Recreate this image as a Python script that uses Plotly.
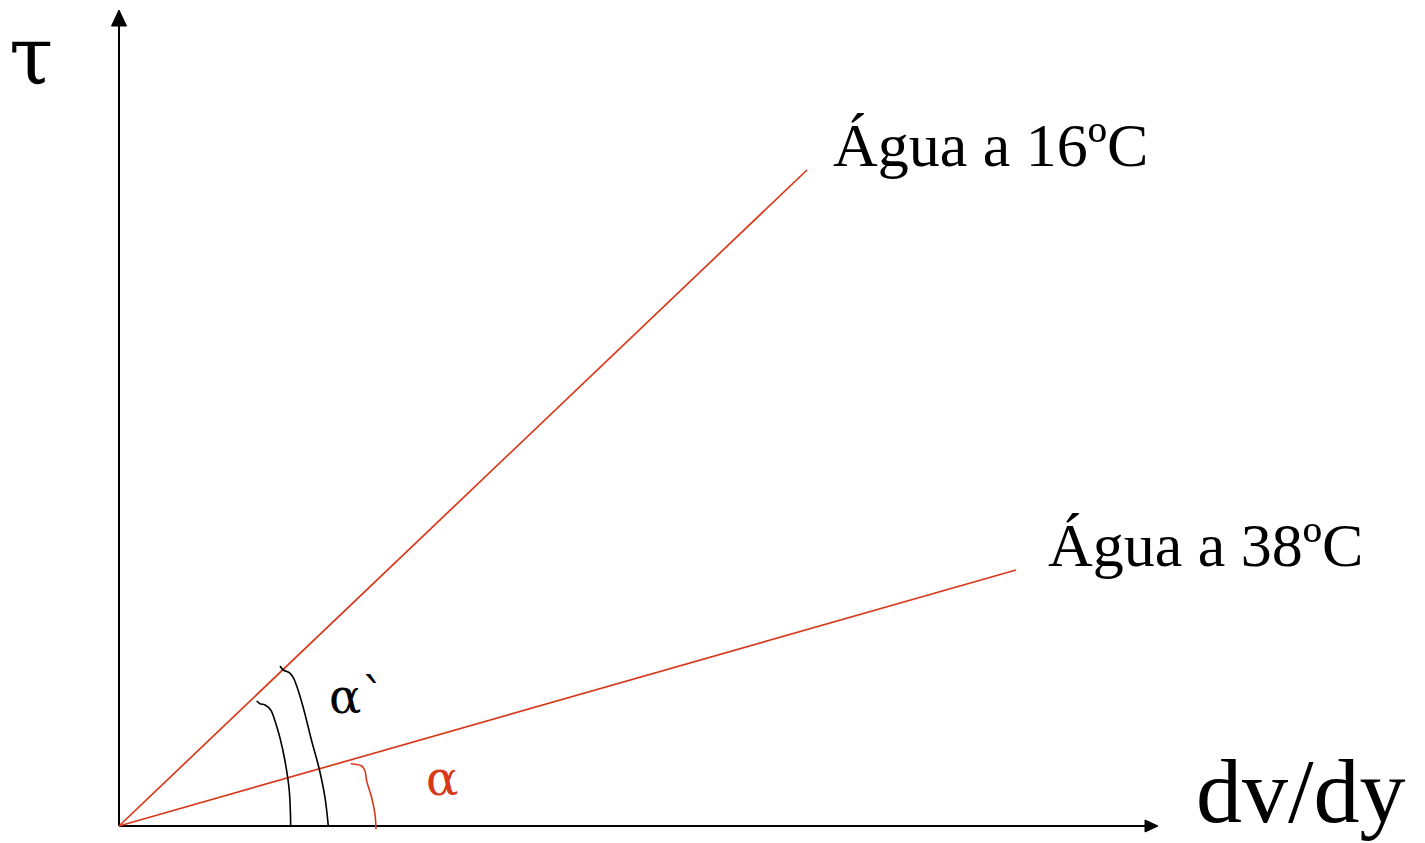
import plotly.graph_objects as go

# ---- data (units: dv/dy on x, tau on y; origin at 0,0) ----
series_names = ["Água a 16ºC", "Água a 38ºC"]
series_x_end = [688, 897]
series_tau_end = [656, 256]

# angle marks (brace-like arcs)
arc_inner_x = [171.7, 170.3, 166, 161, 156, 151.7, 146, 141, 137.7]
arc_inner_y = [0, 35, 65, 88, 105, 116, 121, 122.3, 125]
arc_outer_x = [209.3, 206, 200.3, 192.7, 184.3, 177.7, 174.3, 170.3, 164.3, 161]
arc_outer_y = [0, 28.3, 56.7, 85, 118.3, 140, 148.3, 153.3, 156, 160]
arc_red_x = [257, 256, 252.7, 247.7, 246, 242.7, 236, 231.7]
arc_red_y = [-3.3, 11.7, 28.3, 45, 55, 60, 61.7, 62.3]

x_axis_end = 1039
y_axis_end = 816

RED = "#d8391a"
FONT = "Liberation Serif, Times New Roman, serif"
GREEK = "DejaVu Serif, serif"

fig = go.Figure()

# axes lines
fig.add_trace(go.Scatter(x=[0, x_axis_end - 13], y=[0, 0], mode="lines",
                         line=dict(color="black", width=2), hoverinfo="skip"))
fig.add_trace(go.Scatter(x=[0, 0], y=[0, y_axis_end - 16], mode="lines",
                         line=dict(color="black", width=2), hoverinfo="skip"))

# series lines
for name, xe, ye in zip(series_names, series_x_end, series_tau_end):
    fig.add_trace(go.Scatter(x=[0, xe], y=[0, ye], mode="lines", name=name,
                             line=dict(color=RED, width=1.7), hoverinfo="skip"))

# angle arcs
fig.add_trace(go.Scatter(x=arc_inner_x, y=arc_inner_y, mode="lines",
                         line=dict(color="black", width=1.6, shape="spline"), hoverinfo="skip"))
fig.add_trace(go.Scatter(x=arc_outer_x, y=arc_outer_y, mode="lines",
                         line=dict(color="black", width=1.6, shape="spline"), hoverinfo="skip"))
fig.add_trace(go.Scatter(x=arc_red_x, y=arc_red_y, mode="lines",
                         line=dict(color=RED, width=1.6, shape="spline"), hoverinfo="skip"))

# arrowheads
shapes = [
    dict(type="path", xref="x", yref="y",
         path=f"M -7.5 {y_axis_end-16} L 7.5 {y_axis_end-16} L 0 {y_axis_end} Z",
         fillcolor="black", line=dict(color="black", width=1)),
    dict(type="path", xref="x", yref="y",
         path=f"M {x_axis_end-13} -6 L {x_axis_end-13} 6 L {x_axis_end} 0 Z",
         fillcolor="black", line=dict(color="black", width=1)),
]

annotations = [
    dict(x=712, y=681, text="Água a 16ºC", xanchor="left", yanchor="middle",
         showarrow=False, font=dict(family=FONT, size=62, color="black")),
    dict(x=927, y=281, text="Água a 38ºC", xanchor="left", yanchor="middle",
         showarrow=False, font=dict(family=FONT, size=62, color="black")),
    dict(x=-88, y=770, text="τ", xanchor="center", yanchor="middle",
         showarrow=False, font=dict(family=GREEK, size=80, color="black")),
    dict(x=1075, y=35, text="dv/dy", xanchor="left", yanchor="middle",
         showarrow=False, font=dict(family=FONT, size=92, color="black")),
    dict(x=208, y=130, text="α`", xanchor="left", yanchor="middle",
         showarrow=False, font=dict(family=GREEK, size=48, color="black")),
    dict(x=305, y=48, text="α", xanchor="left", yanchor="middle",
         showarrow=False, font=dict(family=GREEK, size=48, color=RED)),
]

# page body has an 8px margin, so ranges are shifted by 8px to keep the origin in place
fig.update_layout(
    width=1425, height=843, autosize=False,
    margin=dict(l=0, r=0, t=0, b=0),
    paper_bgcolor="white", plot_bgcolor="white",
    showlegend=False,
    xaxis=dict(range=[-111, 1314], visible=False, fixedrange=True),
    yaxis=dict(range=[-25, 818], visible=False, fixedrange=True),
    shapes=shapes, annotations=annotations,
)

fig.write_html("out.html", config={"displayModeBar": False})
